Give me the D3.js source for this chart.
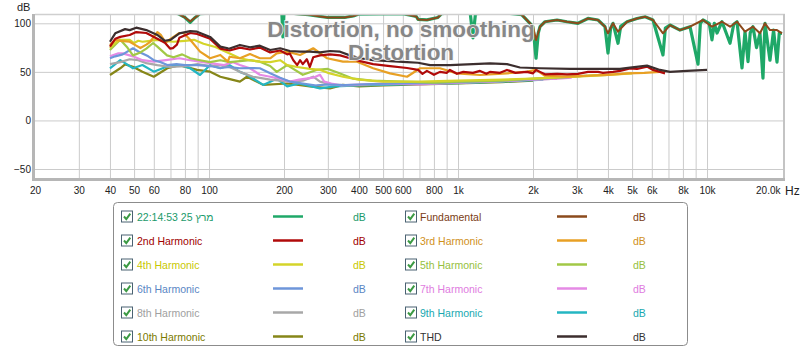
<!DOCTYPE html>
<html>
<head>
<meta charset="utf-8">
<script src="https://cdn.jsdelivr.net/npm/d3@7"></script>
<style>
  body { margin: 0; background: #fff; }
  svg { display: block; font-family: "Liberation Sans", Arial, sans-serif; }
  .tick-label { font-size: 10px; fill: #222; }
  .legend-text { font-size: 10.5px; }
</style>
</head>
<body>
<script>
const width = 800;
const height = 351;

// axis ticks
const yTicks = [-50, 0, 50, 100];
const xLabelTicks = [20, 30, 40, 50, 60, 80, 100, 200, 300, 400, 500, 600, 800,
  1000, 2000, 3000, 4000, 5000, 6000, 8000, 10000, 20000];
const xLabels = ["20", "30", "40", "50", "60", "80", "100", "200", "300", "400", "500", "600", "800",
  "1k", "2k", "3k", "4k", "5k", "6k", "8k", "10k", "20.0k"];
const xGridTicks = [30, 40, 50, 60, 70, 80, 90, 100, 200, 300, 400, 500, 600, 700, 800, 900,
  1000, 2000, 3000, 4000, 5000, 6000, 7000, 8000, 9000, 10000];

// series values, [Hz, dB]
const measurement = [[40,113],[60,113],[75,110],[80,106],[84,101],[88,106],[92,110],[150,112],[196,111],[198,86],[200,111],
  [250,109],[280,107],[300,106],[350,106],[380,107.5],[400,109.5],[600,110],[680,107],[691,104],[750,103.5],[830,106],
  [860,110],[1000,111],[1120,110],[1148,85],[1175,110],[1500,111],[1800,109],[1945,100],[2000,96.5],[2057,64],[2100,90],[2134,96.5],
  [2234,101.6],[2498,103.4],[2738,101.6],[3032,100],[3326,105],[3648,103.4],[3892,96.5],[4002,69.4],[4100,95],[4192,100],
  [4390,79.4],[4500,97],[4772,101.6],[5234,105],[5636,106.8],[6066,103.4],[6654,67.4],[6800,95],[7098,98.2],[7786,93],
  [8542,96.5],[9200,58],[9400,100],[9634,103.4],[10200,100],[10466,83],[10700,100],[10966,90],[11482,101.6],[12368,79.4],
  [12800,99],[13194,101.6],[13818,54],[14206,91.4],[14606,60.5],[14900,90],[15294,96.5],[15800,75],[16316,89.7],[16774,43.6],
  [17086,100],[17894,62],[18500,93],[19096,60],[19500,90],[20000,89.7]];

const fundamental = [[40,112],[60,113],[75,110],[80,106],[84,102],[88,106],[92,110],[150,112],[200,110],[250,109],[280,107],
  [300,106],[350,106],[380,107.5],[400,109.5],[600,110],[680,107],[691,104],[750,103.5],[830,106],[860,110],[1000,111],
  [1200,110],[1500,111],[1800,109],[1945,100],[2000,96.5],[2057,82.8],[2134,96.5],[2234,101.6],[2498,103.4],[2738,101.6],[3032,100],
  [3326,105],[3648,103.4],[3892,96.5],[4002,89.7],[4192,100],[4390,91.4],[4772,101.6],[5234,105],[5636,106.8],[6066,103.4],
  [6654,89.7],[7098,98.2],[7786,93],[8542,96.5],[9634,103.4],[10466,96.5],[11482,101.6],[12368,96.5],[13194,101.6],
  [14206,91.4],[15294,96.5],[16316,89.7],[17086,100],[17894,93],[19096,93],[20000,89.7]];

const thd = [[40,81],[42,89.7],[46,94],[48,93],[51,95.5],[56,93],[62,88],[66.5,82],[70,83],[76,89.7],[84,92],[89.5,91.4],
  [101,86],[111,76],[119,74.3],[121,74],[133,77.7],[146,75.3],[160,77],[176,72.5],[193,74.3],[211,71.5],[232,70.8],[254,70.8],
  [279,70],[306,71.5],[336,70.8],[368,67],[404,64],[456,62],[533,61],[624,60],[691,59.4],[772,57],[928,57],[1148,58],
  [1344,58.8],[1572,58],[1773,54.5],[2134,53.7],[2816,53],[4472,53],[4906,54.3],[5740,56.4],[6472,52],[7098,50],[8308,51],[10000,52]];

const harmonic2 = [[40,76],[42,84],[44,86],[48,88],[51,91],[56,90],[62,84],[66.5,80],[69.7,74],[71.6,74.5],[74.3,78],[76,85],
  [84,90],[89.5,89],[101,84],[111,74],[121,72],[133,75],[146,73],[160,75],[176,70],[193,72],[206,68],[211,69],[218,62],[226,57],
  [232,62],[238,58],[247,63],[254,55],[262,65],[279,67],[306,68],[336,67],[368,64],[404,61],[456,58],[533,56],[624,54],
  [691,52],[720,48],[750,51],[800,47],[846,50],[900,49],[928,52],[990,48],[1050,50],[1148,49],[1225,51],[1300,48],[1344,50],
  [1474,49],[1572,52],[1700,49],[1892,50],[2000,48.5],[2057,52],[2134,50],[2234,47.5],[2500,48],[2738,47.5],[3032,48],
  [3326,50],[3648,50],[3820,49],[4192,50],[4472,51],[4906,53.6],[5234,53],[5740,55.4],[6066,52],[6472,50],[6778,48.5]];

const harmonic3 = [[40,77.7],[42,83],[44,82],[48,81],[51,77],[53,74.5],[56,78],[58,81],[60,86],[62,91],[64,88],[67,80],
  [70,84],[74,88],[76,90],[79,90],[84,83],[92,70.8],[101,64],[111,67.4],[119,60.5],[121,65.6],[133,64],[146,68.4],[160,64],
  [176,64],[187,69],[206,70.8],[232,67.4],[262,74.3],[298,64],[345,60.5],[393,60.5],[456,53.7],[533,48.5],[624,45],[704,53.7],
  [846,53.7],[990,48.5],[1225,46.8],[1572,48.5],[1892,50.2],[2057,52],[2234,46],[2738,45],[3300,46],[4000,47],[4800,48.5],
  [5600,49],[6472,50],[6778,50]];

const harmonic4 = [[40,74.5],[42,80],[44,83],[48,83],[50,79.7],[52,82],[54,81],[58,82],[62,83],[66,82],[72,81],[80,82],
  [87,83],[95,79],[106,75.6],[121,69],[133,64],[146,62],[160,60.5],[176,60],[193,62],[206,57],[226,55],[254,53],[280,52],
  [300,49],[345,45],[400,42],[500,40],[700,40],[1000,41],[1500,42],[2000,43],[3000,45],[4000,47],[5000,48.5]];

const harmonic5 = [[40,72.5],[42,78],[44,83],[47,75],[49.5,67],[53,70],[56,74],[59.6,79.7],[62,76],[67.8,67],[72,65],
  [78,68],[84,64],[92,62],[101,60],[111,62],[121,60],[133,61],[146,62],[160,60.5],[176,56],[187,50],[206,57],[238,47],
  [270,52],[300,53],[330,49],[380,43],[450,41],[600,40],[800,39],[1000,40],[1500,41],[2000,43],[2800,45],[3500,46.5],[4000,47]];

const harmonic6 = [[40,64],[42,66],[45,68],[49.5,74.3],[52,71],[54,69],[57,66],[60,62],[64,60],[68,57],[74,58],[80,57],
  [90,57],[101,56],[111,54],[121,55],[133,53.7],[146,54],[160,53.7],[176,48.5],[193,44],[211,40],[238,38],[270,36],[300,37],
  [350,36.5],[450,37.5],[600,38],[800,38.5],[1000,39.5],[1500,41],[2000,42.5],[2700,44.5],[3300,46]];

const harmonic7 = [[40,66],[43,69],[45,69],[49.5,66],[54,62],[60,60.5],[67,62],[76,64],[84,62],[92,60.5],[101,59],
  [115,57],[125,60],[133,57],[146,53.7],[160,47],[176,45],[193,43],[211,40],[230,42],[262,44],[279,47],[290,40],[310,38],
  [340,36],[400,37],[500,38],[700,37],[1000,39],[1500,40.5],[2000,42],[2500,43],[2860,44]];

const harmonic8 = [[40,58],[44,60],[48,63],[52,62],[56,59],[62,57],[70,55],[80,56],[90,58],[101,56],[111,57],[121,55],
  [133,50],[150,45],[176,42],[211,40],[238,41],[262,45],[279,40],[310,37],[370,36],[450,37],[600,37.5],[800,38],[1000,39],
  [1500,40.5],[2000,42],[2500,43]];

const harmonic9 = [[40,53.7],[44,62],[46,59],[49.5,53.7],[54,57],[60,50.2],[67,55],[76,57],[84,53.7],[92,46.8],[101,57],
  [111,53.7],[121,57],[133,50],[142,47],[165,36.6],[187,43],[206,35],[230,38],[279,33],[320,35],[400,36],[500,36.5],
  [700,37.5],[1000,38.5],[1500,40],[2000,41.5],[2200,42]];

const harmonic10 = [[40,46.8],[44,53.7],[46,57.7],[49.5,55.3],[54,50.2],[60,45],[68,53.7],[76,57],[89.5,52],[101,50.2],
  [111,45],[119,43],[133,40],[142,45],[165,36.6],[206,38],[254,35],[306,33],[345,36.6],[400,35],[500,36],[700,37],
  [1000,38],[1500,39.5],[2000,41]];

const seriesNames = ["22:14:53 25 מרץ", "Fundamental", "2nd Harmonic", "3rd Harmonic", "4th Harmonic", "5th Harmonic",
  "6th Harmonic", "7th Harmonic", "8th Harmonic", "9th Harmonic", "10th Harmonic", "THD"];
const seriesData = [measurement, fundamental, harmonic2, harmonic3, harmonic4, harmonic5,
  harmonic6, harmonic7, harmonic8, harmonic9, harmonic10, thd];

// styles
const lineColors = ["#1fa868", "#8b4a1c", "#b00a0a", "#e8a024", "#d4d42a", "#a2c846",
  "#6e96da", "#e58ae5", "#a8a8a8", "#24b6c2", "#868618", "#3c2e2e"];
const textColors = ["#1a9a6a", "#7a3c14", "#a00000", "#d0901a", "#c8c800", "#96c040",
  "#5a86c4", "#e07ce0", "#a0a0a0", "#18a8b0", "#7a7a00", "#333333"];
// drawing order, bottom to top
const drawOrder = [0, 1, 10, 9, 8, 7, 6, 5, 4, 3, 2, 11];

const plotLeft = 35, plotRight = 783, plotTop = 15, plotBottom = 178;

const svg = d3.select("body").append("svg")
  .attr("width", width)
  .attr("height", height);

/* SCALES */
const x = d3.scaleLog().domain([20, 20000]).range([35, 782]);
const y = d3.scaleLinear().domain([-50, 100]).range([169, 23.3]);

/* GRID */
const grid = svg.append("g").attr("id", "grid");
grid.append("g")
  .attr("transform", "translate(" + plotLeft + ",0)")
  .call(d3.axisLeft(y).tickValues(yTicks).tickSize(-(plotRight - plotLeft)).tickFormat(""))
  .call(g => g.select(".domain").remove())
  .call(g => g.selectAll("line").attr("stroke", "#cbcbcb"));
grid.append("g")
  .attr("transform", "translate(0," + plotBottom + ")")
  .call(d3.axisBottom(x).tickValues(xGridTicks).tickSize(-(plotBottom - plotTop)).tickFormat(""))
  .call(g => g.select(".domain").remove())
  .call(g => g.selectAll("line").attr("stroke", "#cbcbcb"));

/* LINES */
svg.append("clipPath").attr("id", "clip")
  .append("rect")
  .attr("x", plotLeft).attr("y", plotTop)
  .attr("width", plotRight - plotLeft).attr("height", plotBottom - plotTop);

const line = d3.line().x(d => x(d[0])).y(d => y(d[1]));
const lines = svg.append("g").attr("clip-path", "url(#clip)");
drawOrder.forEach(i => {
  lines.append("path")
    .datum(seriesData[i])
    .attr("d", line)
    .attr("fill", "none")
    .attr("stroke", lineColors[i])
    .attr("stroke-width", i === 0 ? 3.2 : (i === 1 ? 2 : 2.2))
    .attr("stroke-linejoin", "round");
});

/* TITLE */
const titleLines = ["Distortion, no smoothing", "Distortion"];
svg.append("g").selectAll("text")
  .data(titleLines)
  .join("text")
  .attr("x", 401)
  .attr("y", (d, i) => 36.5 + i * 23.5)
  .attr("text-anchor", "middle")
  .style("font-size", "22.5px")
  .style("font-weight", "bold")
  .style("fill", "#878787")
  .style("stroke", "#f4f4f4")
  .style("stroke-width", 1.5)
  .style("paint-order", "stroke")
  .text(d => d);

/* FRAME */
svg.append("line").attr("x1", plotLeft).attr("x2", plotRight + 2).attr("y1", plotTop - 0.5).attr("y2", plotTop - 0.5)
  .attr("stroke", "#cfcfcf").attr("stroke-width", 1.5);
svg.append("line").attr("x1", plotRight + 1).attr("x2", plotRight + 1).attr("y1", plotTop - 1).attr("y2", plotBottom + 2)
  .attr("stroke", "#c4c4c4").attr("stroke-width", 2);
svg.append("rect").attr("x", 32).attr("y", plotTop - 1).attr("width", 3).attr("height", plotBottom - plotTop + 4)
  .attr("fill", "#b6b6b6");
svg.append("rect").attr("x", 32).attr("y", plotBottom).attr("width", plotRight - 32 + 2).attr("height", 3)
  .attr("fill", "#b6b6b6");

/* AXES LABELS */
const yAxisG = svg.append("g")
  .attr("transform", "translate(31,0)")
  .call(d3.axisLeft(y).tickValues(yTicks).tickSize(0).tickPadding(0));
yAxisG.select(".domain").remove();
yAxisG.selectAll("text").attr("class", "tick-label").attr("font-family", null).attr("font-size", null);

const xAxisG = svg.append("g")
  .attr("transform", "translate(0," + (plotBottom + 4) + ")")
  .call(d3.axisBottom(x).tickValues(xLabelTicks).tickSize(0).tickPadding(5)
    .tickFormat((d, i) => xLabels[i]));
xAxisG.select(".domain").remove();
xAxisG.selectAll("text").attr("class", "tick-label").attr("font-family", null).attr("font-size", null);
xAxisG.selectAll("text").filter(d => d === 20000).attr("text-anchor", "end").attr("dx", -2);

svg.append("text").attr("x", 785).attr("y", 195).style("font-size", "12px").style("fill", "#222").text("Hz");
svg.append("text").attr("x", 17).attr("y", 11).style("font-size", "11px").style("fill", "#222").text("dB");

/* LEGEND */
const legend = svg.append("g").attr("id", "legend");
legend.append("rect")
  .attr("x", 113.5).attr("y", 202.5)
  .attr("width", 574).attr("height", 143)
  .attr("rx", 4)
  .attr("fill", "#fff")
  .attr("stroke", "#8c8c8c");

const leftCol = [0, 2, 4, 6, 8, 10];
const rightCol = [1, 3, 5, 7, 9, 11];
const cols = [{ items: leftCol, box: 121.5, text: 137, line: 273, db: 353 },
  { items: rightCol, box: 405.5, text: 420, line: 557, db: 633 }];

cols.forEach(col => {
  col.items.forEach((si, r) => {
    const cy = 216.5 + r * 24;
    const row = legend.append("g");
    row.append("rect")
      .attr("x", col.box).attr("y", cy - 5.5)
      .attr("width", 11).attr("height", 11)
      .attr("fill", "#fff").attr("stroke", "#4a6272");
    row.append("path")
      .attr("d", "M" + (col.box + 2.5) + "," + (cy) + " L" + (col.box + 4.8) + "," + (cy + 2.6) + " L" + (col.box + 8.8) + "," + (cy - 2.8))
      .attr("fill", "none").attr("stroke", "#3c9a44").attr("stroke-width", 2);
    row.append("text")
      .attr("class", "legend-text")
      .attr("x", col.text).attr("y", cy + 4)
      .style("fill", textColors[si])
      .text(seriesNames[si]);
    row.append("line")
      .attr("x1", col.line).attr("x2", col.line + 30)
      .attr("y1", cy).attr("y2", cy)
      .attr("stroke", lineColors[si]).attr("stroke-width", 2.5);
    row.append("text")
      .attr("class", "legend-text")
      .attr("x", col.db).attr("y", cy + 4)
      .style("fill", textColors[si])
      .text("dB");
  });
});
</script>
</body>
</html>
